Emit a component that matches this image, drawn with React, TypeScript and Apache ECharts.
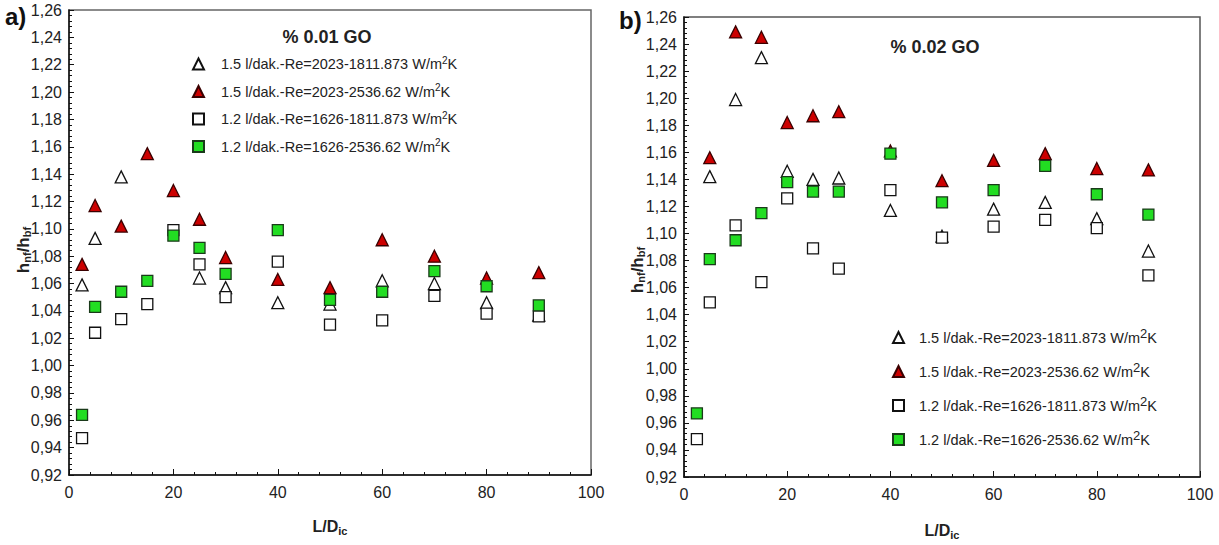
import React, { useEffect, useRef } from 'react';
import * as echarts from 'echarts';

const FONT = '"Liberation Sans Narrow", "Arial Narrow", "Liberation Sans", Arial, sans-serif';

const seriesNames = [
  '1.5 l/dak.-Re=2023-1811.873 W/m2K',
  '1.5 l/dak.-Re=2023-2536.62 W/m2K',
  '1.2 l/dak.-Re=1626-1811.873 W/m2K',
  '1.2 l/dak.-Re=1626-2536.62 W/m2K',
];

// Panel a) % 0.01 GO
const aOpenTriX = [2.5, 5, 10, 25, 30, 40, 50, 60, 70, 80, 90];
const aOpenTriY = [1.059, 1.093, 1.138, 1.064, 1.057, 1.046, 1.045, 1.062, 1.060, 1.046, 1.037];
const aX = [2.5, 5, 10, 15, 20, 25, 30, 40, 50, 60, 70, 80, 90];
const aRedTriY = [1.074, 1.117, 1.102, 1.155, 1.128, 1.107, 1.079, 1.063, 1.057, 1.092, 1.080, 1.064, 1.068];
const aOpenSqY = [0.947, 1.024, 1.034, 1.045, 1.099, 1.074, 1.050, 1.076, 1.030, 1.033, 1.051, 1.038, 1.036];
const aGreenSqY = [0.964, 1.043, 1.054, 1.062, 1.095, 1.086, 1.067, 1.099, 1.048, 1.054, 1.069, 1.058, 1.044];

// Panel b) % 0.02 GO
const bTriX = [5, 10, 15, 20, 25, 30, 40, 50, 60, 70, 80, 90];
const bOpenTriY = [1.142, 1.199, 1.230, 1.146, 1.140, 1.141, 1.117, 1.098, 1.118, 1.123, 1.111, 1.087];
const bRedTriY = [1.156, 1.249, 1.245, 1.182, 1.187, 1.190, 1.161, 1.139, 1.154, 1.159, 1.148, 1.147];
const bSqX = [2.5, 5, 10, 15, 20, 25, 30, 40, 50, 60, 70, 80, 90];
const bOpenSqY = [0.948, 1.049, 1.106, 1.064, 1.126, 1.089, 1.074, 1.132, 1.097, 1.105, 1.110, 1.104, 1.069];
const bGreenSqY = [0.967, 1.081, 1.095, 1.115, 1.138, 1.131, 1.131, 1.159, 1.123, 1.132, 1.150, 1.129, 1.114];

const yTicks = { min: 0.92, max: 1.26, interval: 0.02 };
const xTicks = { min: 0, max: 100, interval: 20 };

const zip = (xs: number[], ys: number[]) => xs.map((x, i) => [x, ys[i]]);

const styles = [
  { symbol: 'triangle', color: '#ffffff', border: '#111111' },
  { symbol: 'triangle', color: '#cc0000', border: '#3a0000' },
  { symbol: 'rect', color: '#ffffff', border: '#111111' },
  { symbol: 'rect', color: '#22dd22', border: '#1a3a1a' },
];

export default function App() {
  const ref = useRef<HTMLDivElement>(null);
  useEffect(() => {
    if (!ref.current) return;
    const chart = echarts.init(ref.current, undefined, { renderer: 'svg' });

    const mkX = (gi: number) => ({
      type: 'value',
      gridIndex: gi,
      min: xTicks.min,
      max: xTicks.max,
      interval: xTicks.interval,
      name: '{b|L/D}{s|ic}',
      nameLocation: 'middle',
      nameGap: 42,
      nameTextStyle: {
        rich: {
          b: { fontFamily: FONT, fontSize: 16, fontWeight: 'bold', color: '#222' },
          s: { fontFamily: FONT, fontSize: 11, fontWeight: 'bold', color: '#222', padding: [8, 0, 0, 0] },
        },
      },
      axisLine: { show: true, lineStyle: { color: '#111', width: 1.5 } },
      axisTick: { show: true, inside: true, length: 6, lineStyle: { color: '#111' } },
      minorTick: { show: true, splitNumber: 5, length: 3, lineStyle: { color: '#111' } },
      splitLine: { show: false },
      axisLabel: { fontFamily: FONT, fontSize: 16, color: '#222', margin: 9 },
    });
    const mkY = (gi: number) => ({
      type: 'value',
      gridIndex: gi,
      min: yTicks.min,
      max: yTicks.max,
      interval: yTicks.interval,
      axisLine: { show: true, lineStyle: { color: '#111', width: 1.5 } },
      axisTick: { show: true, inside: true, length: 5, lineStyle: { color: '#111' } },
      minorTick: { show: true, splitNumber: 5, length: 3, lineStyle: { color: '#111' } },
      splitLine: { show: false },
      axisLabel: {
        fontFamily: FONT,
        fontSize: 16,
        color: '#222',
        margin: 7,
        formatter: (v: number) => v.toFixed(2).replace('.', ','),
      },
    });

    const mkSeries = (gi: number, k: number, data: number[][]) => ({
      type: 'scatter',
      name: seriesNames[k],
      xAxisIndex: gi,
      yAxisIndex: gi,
      symbol: styles[k].symbol,
      symbolSize: styles[k].symbol === 'rect' ? 11 : 12,
      itemStyle: { color: styles[k].color, borderColor: styles[k].border, borderWidth: 1.3, opacity: 1 },
      data,
      z: 2 + k,
    });

    const legendFormatter = (name: string) => {
      const p = name.replace(/m2K$/, '');
      return `{g| }{t|${p}m}{s|2}{t|K}`;
    };
    const mkLegend = (left: number, top: number, gap: number, sup: number, spacer: number) => ({
      orient: 'vertical',
      left,
      top,
      padding: 0,
      itemWidth: 11,
      itemHeight: 11,
      itemGap: gap,
      data: seriesNames,
      selectedMode: false,
      formatter: legendFormatter,
      textStyle: {
        rich: {
          g: { width: spacer, fontSize: 10 },
          t: { fontFamily: FONT, fontSize: 14.5, color: '#222' },
          s: { fontFamily: FONT, fontSize: sup, color: '#222', padding: [0, 0, 8, 0] },
        },
      },
    });

    const yName = (x: number, y: number) => ({
      type: 'text',
      x,
      y,
      rotation: Math.PI / 2,
      style: {
        text: '{b|h}{s|nf}{b|/h}{s|bf}',
        align: 'center',
        verticalAlign: 'middle',
        rich: {
          b: { fontFamily: FONT, fontSize: 17, fontWeight: 'bold', fill: '#222' },
          s: { fontFamily: FONT, fontSize: 11, fontWeight: 'bold', fill: '#222', padding: [8, 0, 0, 0] },
        },
      },
    });

    chart.setOption({
      animation: false,
      backgroundColor: '#ffffff',
      grid: [
        { left: 69, width: 522, top: 10, height: 465, show: true, borderColor: '#666', borderWidth: 1.5 },
        { left: 684, width: 516, top: 17, height: 465, show: true, borderColor: '#555', borderWidth: 1.5 },
      ],
      xAxis: [mkX(0), { ...mkX(1), nameGap: 44 }],
      yAxis: [mkY(0), mkY(1)],
      legend: [mkLegend(192, 55, 11, 10, 12), mkLegend(892, 327, 16, 13, 10)],
      series: [
        mkSeries(0, 0, zip(aOpenTriX, aOpenTriY)),
        mkSeries(0, 1, zip(aX, aRedTriY)),
        mkSeries(0, 2, zip(aX, aOpenSqY)),
        mkSeries(0, 3, zip(aX, aGreenSqY)),
        mkSeries(1, 0, zip(bTriX, bOpenTriY)),
        mkSeries(1, 1, zip(bTriX, bRedTriY)),
        mkSeries(1, 2, zip(bSqX, bOpenSqY)),
        mkSeries(1, 3, zip(bSqX, bGreenSqY)),
      ],
      graphic: [
        { type: 'text', x: 5, y: 4, style: { text: 'a)', fontFamily: 'Liberation Sans, Arial, sans-serif', fontSize: 24, fontWeight: 'bold', fill: '#111' } },
        { type: 'text', x: 619, y: 8, style: { text: 'b)', fontFamily: 'Liberation Sans, Arial, sans-serif', fontSize: 24, fontWeight: 'bold', fill: '#111' } },
        { type: 'text', x: 327, y: 37, style: { text: '% 0.01 GO', align: 'center', verticalAlign: 'middle', fontFamily: FONT, fontSize: 18, fontWeight: 'bold', fill: '#222' } },
        { type: 'text', x: 935, y: 47, style: { text: '% 0.02 GO', align: 'center', verticalAlign: 'middle', fontFamily: FONT, fontSize: 18, fontWeight: 'bold', fill: '#222' } },
        yName(23, 250),
        yName(637, 270),
      ],
    });
    return () => chart.dispose();
  }, []);
  return <div ref={ref} style={{ position: 'absolute', left: 0, top: 0, width: 1219, height: 545 }} />;
}
